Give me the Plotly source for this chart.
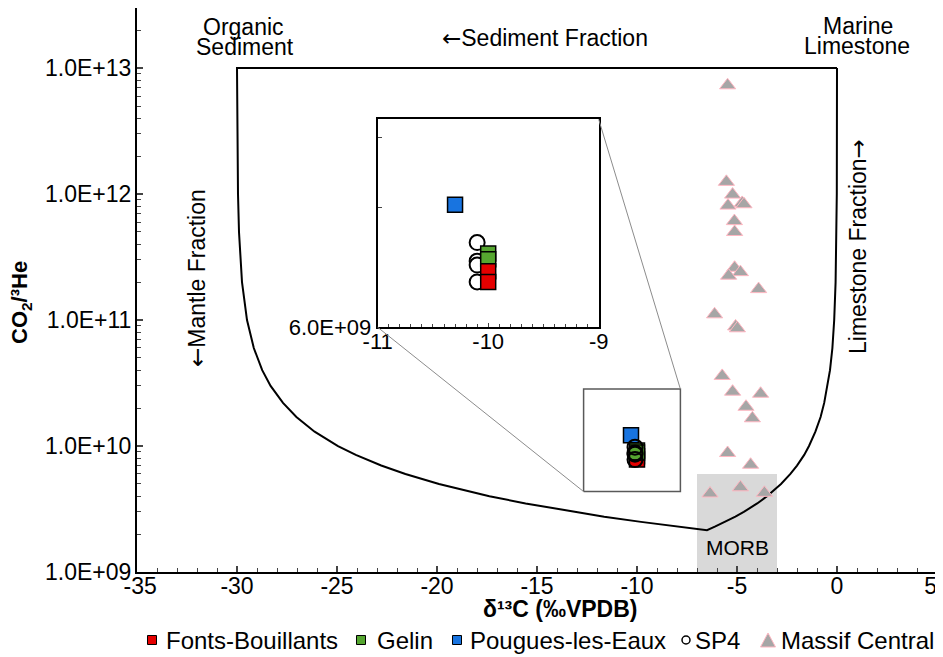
# CO2/3He vs d13C mixing diagram with zoomed inset

import math
import plotly.graph_objs as go

# data

# mixing envelope (organic sediment - MORB - marine limestone)
env_d13c = [0, -30, -29.95, -29.90, -29.75, -29.50, -29.16, -28.74, -28.32, -27.70,
            -27.03, -26.12, -24.95, -24.06, -22.79, -21.58, -19.90, -17.38, -15.57,
            -13.17, -11.64, -9.80, -8.04, -6.5,
            -6.08, -5.59, -5.08, -4.66, -3.99, -3.50, -2.80, -2.33, -2.00, -1.64,
            -1.40, -1.08, -0.82, -0.64, -0.47, -0.35, -0.23, -0.14, -0.07, -0.03,
            -0.01, 0]
env_ratio = [1e13, 1e13, 1e12, 5e11, 2e11, 1e11, 6e10, 4e10, 3e10, 2.2e10,
             1.7e10, 1.3e10, 1e10, 8.5e9, 7e9, 6e9, 5e9, 4e9, 3.5e9,
             3e9, 2.75e9, 2.5e9, 2.3e9, 2.15e9,
             2.3e9, 2.5e9, 2.75e9, 3e9, 3.5e9, 4e9, 5e9, 6e9, 7e9, 8.5e9,
             1e10, 1.3e10, 1.7e10, 2.2e10, 3e10, 4e10, 6e10, 1e11, 2e11, 5e11,
             1e12, 1e13]

# MORB box
morb_d13c = [-7, -3]
morb_ratio = [1e9, 6e9]

fb_d13c = [-10.0, -10.0]
fb_ratio = [8.3e9, 7.8e9]
gelin_d13c = [-10.0, -10.0]
gelin_ratio = [9.2e9, 8.9e9]
pougues_d13c = [-10.3]
pougues_ratio = [1.22e10]
sp4_d13c = [-10.1, -10.1, -10.1, -10.1]
sp4_ratio = [9.8e9, 8.8e9, 8.6e9, 7.8e9]

mc_d13c = [-5.47, -5.53, -5.22, -4.74, -4.65, -5.45, -5.13, -5.12, -5.12, -4.83,
           -5.42, -3.92, -6.12, -5.07, -4.98, -5.74, -5.22, -3.82, -4.55, -4.23,
           -5.47, -4.32, -4.83, -6.35, -3.63]
mc_ratio = [7.3e12, 1.25e12, 9.9e11, 8.5e11, 8.3e11, 8.1e11, 6.1e11, 5.0e11, 2.6e11, 2.4e11,
            2.25e11, 1.76e11, 1.11e11, 8.9e10, 8.6e10, 3.6e10, 2.7e10, 2.6e10, 2.05e10, 1.66e10,
            8.8e9, 7.1e9, 4.7e9, 4.2e9, 4.25e9]

# axis ticks
x_tickvals = [-35, -30, -25, -20, -15, -10, -5, 0, 5]
x_ticktext = ['\u00a0-35', '-30', '-25', '-20', '-15', '-10', '-5', '0', '5\u00a0\u00a0']
y_tickvals = [1e9, 1e10, 1e11, 1e12, 1e13]
y_ticktext = ['1.0E+09', '1.0E+10', '1.0E+11', '1.0E+12', '1.0E+13']
inset_x_tickvals = [-11, -10, -9]
inset_x_ticktext = ['-11', '-10', '-9']
inset_y_tickvals = [6e9]
inset_y_ticktext = ['6.0E+09']

# zoom box on the main plot and inset ranges
zoom_d13c = [-12.67, -7.83]
zoom_ratio = [4.35e9, 2.83e10]
inset_xrange = [-11, -9]
inset_yrange = [6e9, 2e10]

legend_names = ['Fonts-Bouillants', 'Gelin', 'Pougues-les-Eaux', 'SP4', 'Massif Central']

RED = '#e50000'
GREEN = '#55a630'
BLUE = '#1874e0'
GREY = '#a6a6a6'
PINK = '#ffb6c1'
FONT = 'Liberation Sans, Arial, sans-serif'
ARROWFONT = 'DejaVu Sans'

x_range = [-35, 5]
y_range = [9, 13.477]

# page has an 8px body margin, so the figure is drawn 8px smaller
W, H = 935, 649
PL, PT, PW, PH = 137, 8, 800, 564   # plot area in screen pixels


def sx(p):
    return (p - PL) / PW


def sy(p):
    return (PT + PH - p) / PH


def to_paper(x, y):
    px = (x - x_range[0]) / (x_range[1] - x_range[0])
    py = (math.log10(y) - y_range[0]) / (y_range[1] - y_range[0])
    return px, py


def arrow(a):
    return '<span style="font-family:%s">%s</span>' % (ARROWFONT, a)


def sq(color):
    return dict(symbol='square', size=15, color=color, line=dict(color='black', width=1.5))


circ = dict(symbol='circle', size=15, color='white', line=dict(color='black', width=2))
tri = dict(symbol='triangle-up', size=14, color=GREY, line=dict(color=PINK, width=1))

inset_dom_x = [sx(377.7), sx(598.7)]
inset_dom_y = [sy(327.3), sy(119.3)]

data = []

# MORB box
data.append(go.Scatter(x=[morb_d13c[0], morb_d13c[1], morb_d13c[1], morb_d13c[0], morb_d13c[0]],
                       y=[morb_ratio[0], morb_ratio[0], morb_ratio[1], morb_ratio[1], morb_ratio[0]],
                       mode='lines', fill='toself', fillcolor='#d9d9d9',
                       line=dict(width=0, color='#d9d9d9'), showlegend=False, hoverinfo='skip'))

# envelope
data.append(go.Scatter(x=env_d13c, y=env_ratio, mode='lines',
                       line=dict(color='black', width=2), showlegend=False))

# zoom box
data.append(go.Scatter(x=[zoom_d13c[0], zoom_d13c[1], zoom_d13c[1], zoom_d13c[0], zoom_d13c[0]],
                       y=[zoom_ratio[0], zoom_ratio[0], zoom_ratio[1], zoom_ratio[1], zoom_ratio[0]],
                       mode='lines', line=dict(color='#595959', width=1.5),
                       showlegend=False, hoverinfo='skip'))

# main plot markers
data.append(go.Scatter(x=mc_d13c, y=mc_ratio, mode='markers', marker=tri, name=legend_names[4]))
data.append(go.Scatter(x=pougues_d13c, y=pougues_ratio, mode='markers', marker=sq(BLUE), name=legend_names[2]))
data.append(go.Scatter(x=fb_d13c, y=fb_ratio, mode='markers', marker=sq(RED), name=legend_names[0]))
data.append(go.Scatter(x=gelin_d13c, y=gelin_ratio, mode='markers', marker=sq(GREEN), name=legend_names[1]))
data.append(go.Scatter(x=sp4_d13c, y=sp4_ratio, mode='markers',
                       marker=dict(circ, color='rgba(255,255,255,0)'), name=legend_names[3]))

# inset markers
data.append(go.Scatter(x=sp4_d13c, y=sp4_ratio, mode='markers', marker=circ,
                       xaxis='x2', yaxis='y2', name=legend_names[3]))
data.append(go.Scatter(x=gelin_d13c, y=gelin_ratio, mode='markers', marker=sq(GREEN),
                       xaxis='x2', yaxis='y2', name=legend_names[1]))
data.append(go.Scatter(x=fb_d13c, y=fb_ratio, mode='markers', marker=sq(RED),
                       xaxis='x2', yaxis='y2', name=legend_names[0]))
data.append(go.Scatter(x=pougues_d13c, y=pougues_ratio, mode='markers', marker=sq(BLUE),
                       xaxis='x2', yaxis='y2', name=legend_names[2]))

# connector lines from zoom box to inset
zb_tr = to_paper(zoom_d13c[1], zoom_ratio[1])
zb_bl = to_paper(zoom_d13c[0], zoom_ratio[0])
shapes = [
    dict(type='line', xref='paper', yref='paper', x0=inset_dom_x[1], y0=inset_dom_y[1],
         x1=zb_tr[0], y1=zb_tr[1], line=dict(color='#8c8c8c', width=1)),
    dict(type='line', xref='paper', yref='paper', x0=inset_dom_x[0], y0=inset_dom_y[0],
         x1=zb_bl[0], y1=zb_bl[1], line=dict(color='#8c8c8c', width=1)),
]

# hand-placed legend row along the bottom
leg_y = 640
sym_x = [152, 361, 457, 686, 768]
text_x = [164, 375, 468, 693, 779]


def rect_px(cx, cy, s, color, lw):
    return dict(type='rect', xref='paper', yref='paper',
                x0=sx(cx - s / 2), x1=sx(cx + s / 2), y0=sy(cy + s / 2), y1=sy(cy - s / 2),
                fillcolor=color, line=dict(color='black', width=lw))


shapes.append(rect_px(sym_x[0], leg_y, 9, RED, 1))
shapes.append(rect_px(sym_x[1], leg_y, 9, GREEN, 1))
shapes.append(rect_px(sym_x[2], leg_y, 9, BLUE, 1))
shapes.append(dict(type='circle', xref='paper', yref='paper',
                   x0=sx(sym_x[3] - 4), x1=sx(sym_x[3] + 4), y0=sy(leg_y + 4), y1=sy(leg_y - 4),
                   fillcolor='white', line=dict(color='black', width=1.5)))
tx, ty = sym_x[4], leg_y
shapes.append(dict(type='path', xref='paper', yref='paper',
                   path='M %f %f L %f %f L %f %f Z' % (sx(tx - 7.5), sy(ty + 7), sx(tx + 7.5), sy(ty + 7),
                                                        sx(tx), sy(ty - 7)),
                   fillcolor=GREY, line=dict(color=PINK, width=1)))

txt = dict(family=FONT, size=23, color='black')


def note(text, x, y, angle=0, font=txt, xanchor='center'):
    return dict(text=text, x=sx(x), y=sy(y), xref='paper', yref='paper', showarrow=False,
                xanchor=xanchor, yanchor='middle', textangle=angle, font=font)


annotations = [
    note('Organic', 243, 27),
    note('Sediment', 245, 47),
    note(arrow('←') + 'Sediment Fraction', 545, 38),
    note('Marine', 858, 26),
    note('Limestone', 857, 46),
    note(arrow('←') + 'Mantle Fraction', 197, 278, angle=-90),
    note('Limestone Fraction' + arrow('→'), 858, 247, angle=-90),
    note('MORB', 737, 547, font=dict(family=FONT, size=21, color='black')),
    note('<b>δ¹³C (‰VPDB)</b>', 560, 609, font=dict(family=FONT, size=23, color='black')),
    note('<b>CO<sub>2</sub>/³He</b>', 21, 303, angle=-90, font=dict(family=FONT, size=22, color='black')),
]
for name, x in zip(legend_names, text_x):
    annotations.append(note(name, x, leg_y, font=dict(family=FONT, size=24, color='black'),
                            xanchor='left'))

layout = go.Layout(
    width=W, height=H,
    margin=dict(l=PL - 8, r=W - (PL - 8) - PW, t=PT - 8, b=H - (PT - 8) - PH, autoexpand=False),
    paper_bgcolor='white', plot_bgcolor='white',
    font=dict(family=FONT, size=23, color='black'),
    showlegend=False,
    xaxis=dict(range=x_range, tickmode='array', tickvals=x_tickvals, ticktext=x_ticktext,
               ticks='inside', ticklen=6, tickwidth=1.5,
               minor=dict(dtick=1, tick0=-35, ticks='inside', ticklen=4, tickwidth=1),
               showline=True, linecolor='black', linewidth=2, mirror=True,
               showgrid=False, zeroline=False, ticklabelstandoff=-8, automargin=False,
               ticklabeloverflow='allow', tickfont=dict(size=23)),
    yaxis=dict(type='log', range=y_range, tickmode='array', tickvals=y_tickvals, ticktext=y_ticktext,
               ticks='inside', ticklen=6, tickwidth=1.5,
               minor=dict(tickmode='array',
                          tickvals=[m * 10 ** e for e in range(9, 14) for m in range(2, 10)],
                          ticks='inside', ticklen=4, tickwidth=1),
               showline=True, linecolor='black', linewidth=2, mirror=True,
               showgrid=False, zeroline=False, ticklabelstandoff=-1, automargin=False,
               tickfont=dict(size=23)),
    xaxis2=dict(domain=inset_dom_x, anchor='y2', range=inset_xrange, tickmode='array',
                tickvals=inset_x_tickvals, ticktext=inset_x_ticktext,
                ticks='inside', ticklen=4, minor=dict(dtick=0.1, tick0=-11, ticks='inside', ticklen=3),
                showline=True, linecolor='black', linewidth=2, mirror=True, automargin=False,
                showgrid=False, zeroline=False, tickfont=dict(size=22), ticklabelstandoff=-7,
                ticklabeloverflow='allow'),
    yaxis2=dict(domain=inset_dom_y, anchor='x2', type='log',
                range=[math.log10(inset_yrange[0]), math.log10(inset_yrange[1])],
                tickmode='array', tickvals=inset_y_tickvals, ticktext=inset_y_ticktext,
                ticks='inside', ticklen=4,
                minor=dict(tickmode='array', tickvals=[1.2e10, 1.8e10], ticks='inside', ticklen=4),
                showline=True, linecolor='black', linewidth=2, mirror=True, automargin=False,
                showgrid=False, zeroline=False, tickfont=dict(size=22), ticklabeloverflow='allow'),
    shapes=shapes,
    annotations=annotations,
)

fig = go.Figure(data=data, layout=layout)
fig.write_html('out.html')
